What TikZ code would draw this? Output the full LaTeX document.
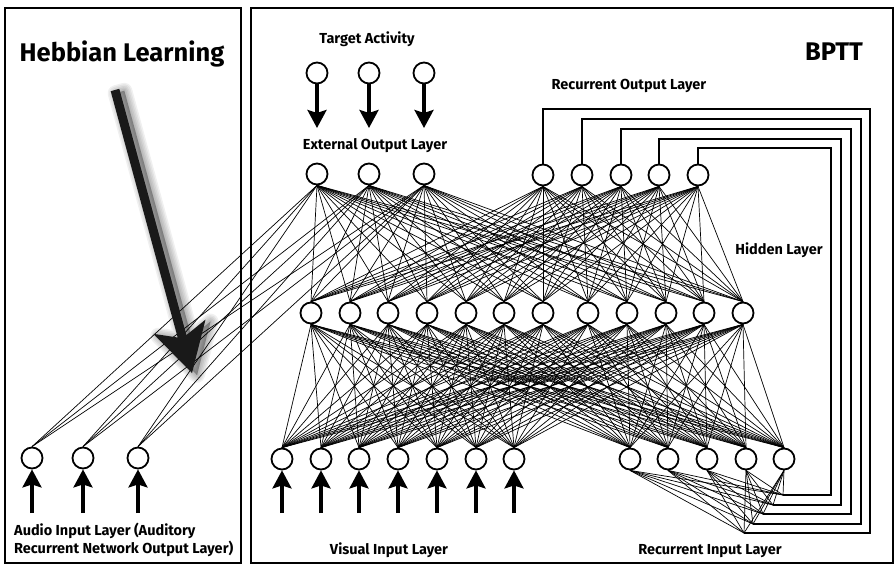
\documentclass[tikz,border=0pt]{standalone}
\usepackage{fontspec}
\setmainfont{Fira Sans}
\usetikzlibrary{arrows.meta}
\begin{document}
\begin{tikzpicture}[x=1pt,y=-1pt,
  unit/.style={circle,draw,line width=1.8pt,minimum size=21pt,inner sep=0pt,fill=white},
  link/.style={line width=0.7pt},
  loopline/.style={line width=2.2pt},
  frame/.style={line width=2.8pt},
  inarrow/.style={line width=3.2pt,-{Stealth[length=18pt,width=19pt,inset=3pt]}},
  lbl/.style={font=\bfseries\fontsize{14.5}{17}\selectfont,inner sep=0pt,anchor=base},
  ttl/.style={font=\bfseries\fontsize{25.5}{30}\selectfont,inner sep=0pt,anchor=base}]
\useasboundingbox (0,0) rectangle (896,566);

% panels
\draw[frame] (5,8) rectangle (241,563);
\draw[frame] (251,8) rectangle (893,563);

% titles and layer labels
\node[ttl] (hebb) at (122,61) {Hebbian Learning};
\node[ttl] (bptt) at (834,60) {BPTT};
\node[lbl] (ltarget) at (367,43) {Target Activity};
\node[lbl] (lext) at (375,149) {External Output Layer};
\node[lbl] (lrec) at (629,89) {Recurrent Output Layer};
\node[lbl] (lhid) at (779,254) {Hidden Layer};
\node[lbl,anchor=base west] (laud1) at (14,535) {Audio Input Layer (Auditory};
\node[lbl,anchor=base west] (laud2) at (14,553) {Recurrent Network Output Layer)};
\node[lbl] (lvis) at (389,554) {Visual Input Layer};
\node[lbl] (lrin) at (710,554) {Recurrent Input Layer};

% units
\foreach \x [count=\i] in {317,369,424} {
  \node[unit] (t\i) at (\x,73) {};
  \node[unit] (e\i) at (\x,174) {};
  \coordinate (tt\i) at (\x,128);
}
\foreach \x [count=\i] in {543,582,621,659,698}
  \node[unit] (r\i) at (\x,175) {};
\foreach \x [count=\i] in {311,350,388,427,466,504,543,588,627,666,704,743}
  \node[unit] (h\i) at (\x,313) {};
\foreach \x [count=\i] in {282,321,359,398,437,476,514} {
  \node[unit] (v\i) at (\x,459) {};
  \coordinate (vb\i) at (\x,513);
}
\foreach \x [count=\i] in {630,668,707,746,784}
  \node[unit] (c\i) at (\x,459) {};
\foreach \x [count=\i] in {32,83,138} {
  \node[unit] (a\i) at (\x,458) {};
  \coordinate (ab\i) at (\x,513);
}

% recurrent loop corners and ends
\foreach \qx/\qy/\kx/\ky [count=\i] in {870/109/744/533, 861/119/753/524, 851/129/763/514, 841/139/773/505, 831/148/783/495} {
  \coordinate (q\i) at (\qx,\qy);
  \coordinate (k\i) at (\kx,\ky);
}

% full connections
\foreach \i in {1,...,3}
  \foreach \j in {1,...,12}
    \draw[link] (e\i.south) -- (h\j.north);
\foreach \i in {1,...,5}
  \foreach \j in {1,...,12}
    \draw[link] (r\i.south) -- (h\j.north);
\foreach \i in {1,...,12} {
  \foreach \j in {1,...,7}
    \draw[link] (h\i.south) -- (v\j.north);
  \foreach \j in {1,...,5}
    \draw[link] (h\i.south) -- (c\j.north);
}
\foreach \i in {1,...,5}
  \foreach \j in {1,...,5}
    \draw[link] (c\i.south) -- (k\j);
\foreach \i in {1,...,3}
  \foreach \j in {1,...,3}
    \draw[link] (a\i.north) -- (e\j.south);

% recurrent copy-back loops
\foreach \i in {1,...,5}
  \draw[loopline] (r\i.north) |- (q\i) |- (k\i);

% input and target arrows
\foreach \i in {1,...,3} {
  \draw[inarrow] (t\i.south) -- (tt\i);
  \draw[inarrow] (ab\i) -- (a\i.south);
}
\foreach \i in {1,...,7}
  \draw[inarrow] (vb\i) -- (v\i.south);

% Hebbian learning arrow with soft shadow
\def\hebbarrow{(110.7,91.2) -- (177.7,337.5) -- (153.3,333.8) -- (192,373) -- (205.5,319.6) -- (186.4,335.1) -- (119.3,88.8) -- cycle}
\begin{scope}[shift={(5,2)}]
  \foreach \w in {16,13,10,7,4,1}
    \filldraw[black,opacity=0.06,line width=\w pt,line join=round] \hebbarrow;
\end{scope}
\fill[black!90] \hebbarrow;
\end{tikzpicture}
\end{document}
